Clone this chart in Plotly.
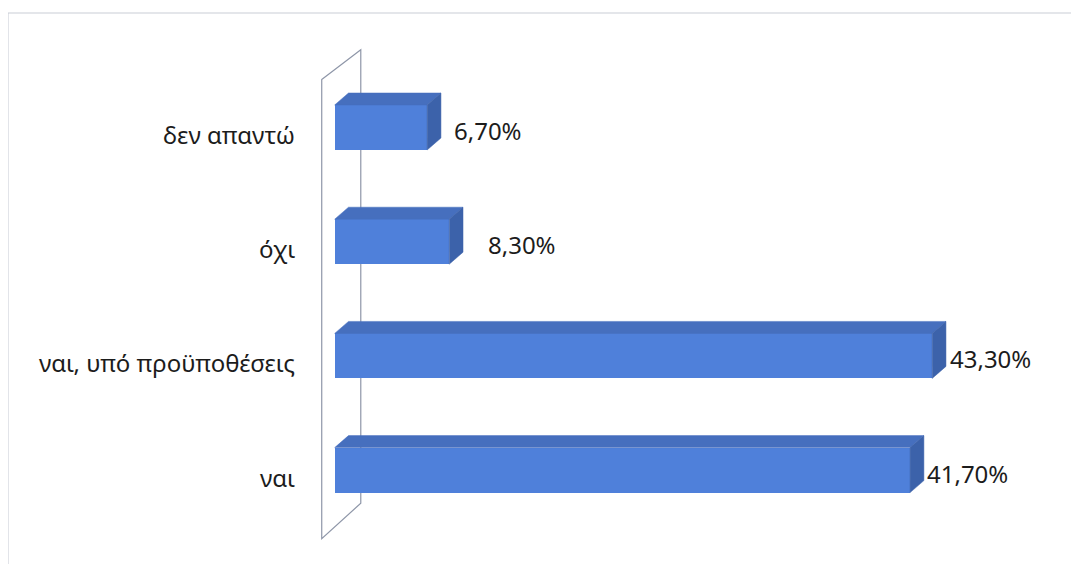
import plotly.graph_objects as go

# survey answers, bottom to top as drawn
categories = ["ναι", "ναι, υπό προϋποθέσεις", "όχι", "δεν απαντώ"]
values = [41.7, 43.3, 8.3, 6.7]
value_labels = ["41,70%", "43,30%", "8,30%", "6,70%"]

FRONT = "#4f80da"
TOP = "#466fbe"
SIDE = "#3c62aa"
TEXT = "#1c1c1c"
FONT = "Noto Sans"

bar_w = 0.394      # bar thickness in category units
dx, dy = 1.0, 0.105  # fake 3D depth offset (x units, category units)
h = bar_w / 2

fig = go.Figure()

# front faces of the bars
fig.add_trace(go.Bar(
    x=values, y=list(range(len(values))), orientation="h", width=bar_w,
    marker=dict(color=FRONT, line=dict(width=0)),
    showlegend=False,
))

# top and side faces for the 3D look
for i, v in enumerate(values):
    fig.add_trace(go.Scatter(
        x=[0, v, v + dx, dx, 0],
        y=[i + h, i + h, i + h + dy, i + h + dy, i + h],
        fill="toself", fillcolor=TOP, mode="lines",
        line=dict(color=TOP, width=0.5),
        hoverinfo="skip", showlegend=False,
    ))
    fig.add_trace(go.Scatter(
        x=[v, v + dx, v + dx, v, v],
        y=[i - h, i - h + dy, i + h + dy, i + h, i - h],
        fill="toself", fillcolor=SIDE, mode="lines",
        line=dict(color=SIDE, width=0.5),
        hoverinfo="skip", showlegend=False,
    ))

# the 3D "wall" outline, kept behind the bars
n = len(categories)
wall_lo, wall_hi = -0.6, n - 1 + 0.42
wall_x0, wall_dx, wall_dy = -0.94, 2.83, 0.29
wall_pts = [
    (wall_x0, wall_hi),
    (wall_x0 + wall_dx, wall_hi + wall_dy - 0.03),
    (wall_x0 + wall_dx, wall_lo + wall_dy + 0.02),
    (wall_x0, wall_lo),
]
fig.add_shape(
    type="path", xref="x", yref="y", layer="below",
    path="M " + " L ".join(f"{x},{y}" for x, y in wall_pts) + " Z",
    line=dict(color="#8e96a8", width=1.2),
)

# value labels next to each bar
label_shift = [15, 16, 37, 25]
for i, (v, lab) in enumerate(zip(values, value_labels)):
    fig.add_annotation(
        x=v, y=i, text=lab, showarrow=False, xanchor="left",
        xshift=label_shift[i], yshift=-3,
        font=dict(family=FONT, size=24, color=TEXT),
    )

# category labels on the left
for i, cat in enumerate(categories):
    fig.add_annotation(
        x=0, y=i, text=cat, showarrow=False, xanchor="right",
        xshift=-38, yshift=-7,
        font=dict(family=FONT, size=24, color=TEXT),
    )

# outer frame of the scanned chart
fig.add_shape(
    type="rect", xref="paper", yref="paper", layer="below",
    x0=-0.407, x1=1.04, y0=-0.1, y1=1.054,
    line=dict(color="#c9cdd6", width=1.2), fillcolor="rgba(0,0,0,0)",
)

fig.update_layout(
    width=1079, height=564,
    margin=dict(l=306, r=21, t=32, b=32),
    paper_bgcolor="white", plot_bgcolor="white",
    xaxis=dict(range=[-1.5, 53], visible=False),
    yaxis=dict(range=[-0.612, 3.766], visible=False),
    bargap=0,
)

fig.write_html("out.html")
